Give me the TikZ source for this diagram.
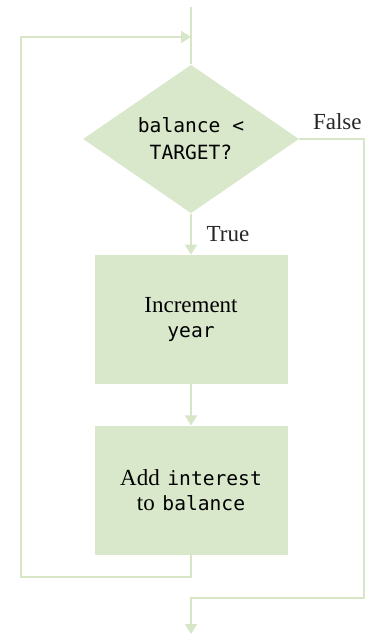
\documentclass[tikz,border=0pt]{standalone}
\usepackage{fontspec}
\setmainfont{Liberation Serif}
\setmonofont{DejaVu Sans Mono}
\usepackage{xcolor}
\usetikzlibrary{shapes.geometric, arrows.meta, positioning}
\definecolor{flowfill}{RGB}{217,232,203}
\definecolor{flowline}{RGB}{214,230,198}
\newcommand{\code}[1]{{\fontsize{9.8}{13}\selectfont\ttfamily #1}}
\tikzset{
  block/.style={rectangle, fill=flowfill, text width=2.8cm, align=center,
                minimum width=96.5pt, minimum height=64.5pt, inner sep=0pt,
                font=\fontsize{11.5}{12.5}\selectfont},
  decision/.style={diamond, fill=flowfill, minimum width=108pt,
                   minimum height=73.5pt, inner sep=0pt, align=center,
                   font=\fontsize{11.5}{12.5}\selectfont},
  line/.style={draw=flowline, line width=1pt},
  arrow/.style={line, -{Triangle[width=6pt, length=5pt]}},
  lbl/.style={font=\fontsize{11.5}{13}\selectfont, text=black!85}
}

\begin{document}
\begin{tikzpicture}[x=0.5pt, y=-0.5pt, node distance=20.5pt]
  \useasboundingbox (0,0) rectangle (368,636);

  \node[decision] (cond) at (191,139)
    {\code{balance <}\\[1pt]\code{TARGET?}};

  \node[block, below=of cond] (inc)
    {Increment\\\code{year}};

  \node[block, below=of inc] (add)
    {Add \code{interest}\\to \code{balance}};

  \coordinate (entry)   at (191,7);
  \coordinate (join)    at (191,37);
  \coordinate (loopbot) at (21,577);
  \coordinate (fbend)   at (364,598);
  \coordinate (exit)    at (191,634);

  \draw[line]  (entry) -- (cond.north);
  \draw[arrow] (cond.south) -- node[lbl, right=4pt] {True} (inc.north);
  \draw[arrow] (inc) -- (add);
  \draw[arrow] (add.south) |- (loopbot) |- (join);
  \draw[arrow] (cond.east) node[lbl, above right=1pt and 3pt] {False}
    -| (fbend) -| (exit);

\end{tikzpicture}
\end{document}
